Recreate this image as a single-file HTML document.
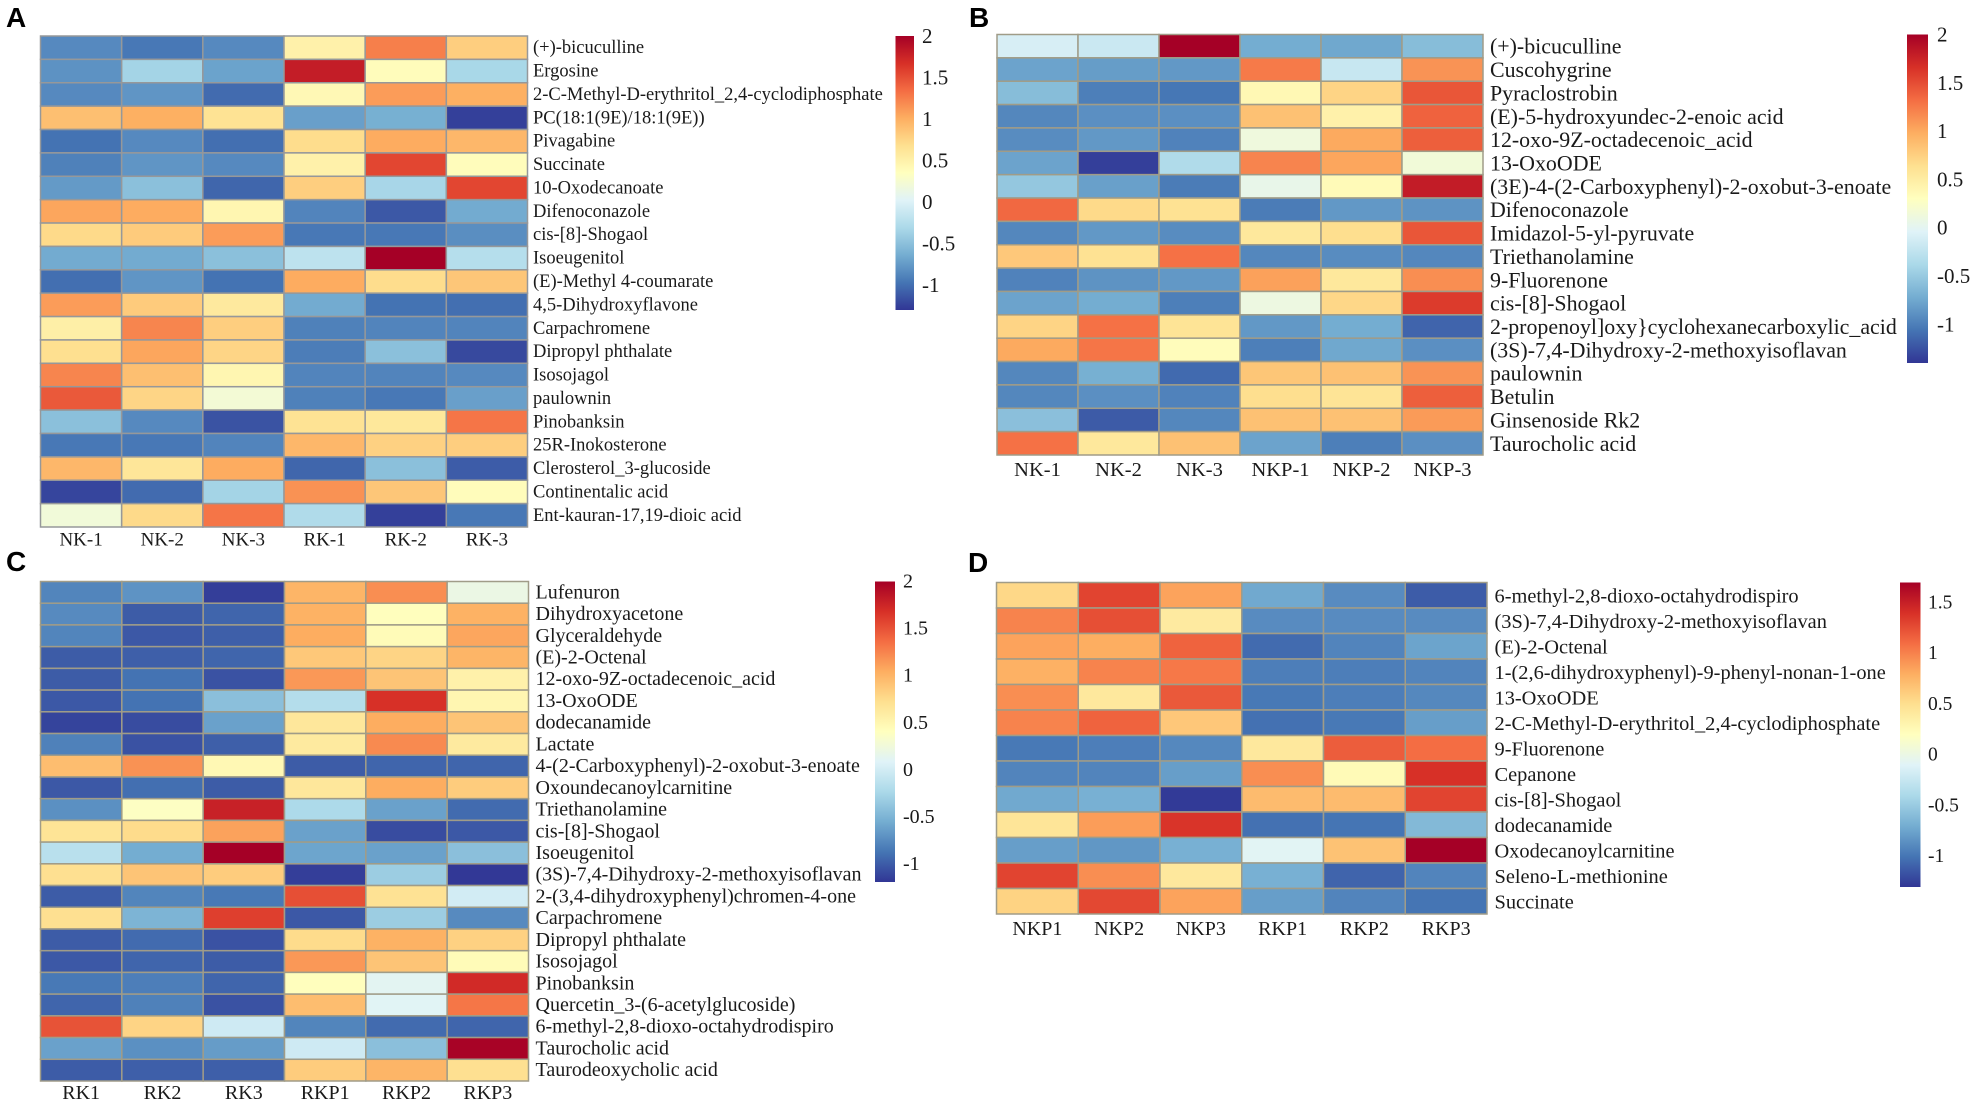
<!DOCTYPE html>
<html lang="en">
<head>
<meta charset="utf-8">
<title>Metabolite heatmaps</title>
<style>
html,body{margin:0;padding:0;background:#fff;}
svg{display:block;}
text{font-family:"Liberation Serif","Times New Roman",serif;fill:#1a1a1a;}
.letter{font-family:"Liberation Sans",Arial,sans-serif;font-weight:bold;font-size:28px;fill:#000;}
</style>
</head>
<body>
<svg id="figure" xmlns="http://www.w3.org/2000/svg" width="1977" height="1107" viewBox="0 0 1977 1107">
<rect width="1977" height="1107" fill="#ffffff"/>
</svg>
<script>
const palette = ['#313695','#4575B4','#74ADD1','#ABD9E9','#E0F3F8','#FFFFBF','#FEE090','#FDAE61','#F46D43','#D73027','#A50026'];

const aColumns = ['NK-1','NK-2','NK-3','RK-1','RK-2','RK-3'];
const aRows = ['(+)-bicuculline','Ergosine','2-C-Methyl-D-erythritol_2,4-cyclodiphosphate','PC(18:1(9E)/18:1(9E))','Pivagabine','Succinate','10-Oxodecanoate','Difenoconazole','cis-[8]-Shogaol','Isoeugenitol','(E)-Methyl 4-coumarate','4,5-Dihydroxyflavone','Carpachromene','Dipropyl phthalate','Isosojagol','paulownin','Pinobanksin','25R-Inokosterone','Clerosterol_3-glucoside','Continentalic acid','Ent-kauran-17,19-dioic acid'];
const aValues = [
[-0.85,-0.95,-0.85,0.5,1.25,0.8],
[-0.8,-0.35,-0.7,1.8,0.38,-0.32],
[-0.85,-0.78,-1.02,0.42,1.1,1.0],
[0.9,1.0,0.65,-0.72,-0.62,-1.25],
[-0.98,-0.85,-1.0,0.7,1.02,0.95],
[-0.9,-0.78,-0.85,0.5,1.55,0.38],
[-0.75,-0.5,-1.05,0.8,-0.33,1.55],
[1.05,1.02,0.45,-0.88,-1.12,-0.65],
[0.72,0.82,1.1,-0.95,-0.95,-0.82],
[-0.65,-0.65,-0.5,-0.2,2.0,-0.25],
[-1.0,-0.78,-0.98,1.02,0.7,0.85],
[1.1,0.82,0.58,-0.65,-0.98,-1.0],
[0.52,1.22,0.8,-0.9,-0.88,-0.88],
[0.68,1.05,0.75,-0.92,-0.5,-1.2],
[1.22,0.9,0.45,-0.88,-0.88,-0.85],
[1.45,0.75,0.22,-0.9,-0.95,-0.72],
[-0.5,-0.85,-1.15,0.65,0.6,1.3],
[-0.95,-0.95,-0.88,0.95,0.78,0.8],
[0.95,0.62,1.02,-1.05,-0.5,-1.1],
[-1.22,-1.02,-0.35,1.15,0.85,0.38],
[0.2,0.72,1.3,-0.28,-1.25,-0.95]
];
const aTicks = [2,1.5,1,0.5,0,-0.5,-1];
const aDomain = [-1.3,2];

const bColumns = ['NK-1','NK-2','NK-3','NKP-1','NKP-2','NKP-3'];
const bRows = ['(+)-bicuculline','Cuscohygrine','Pyraclostrobin','(E)-5-hydroxyundec-2-enoic acid','12-oxo-9Z-octadecenoic_acid','13-OxoODE','(3E)-4-(2-Carboxyphenyl)-2-oxobut-3-enoate','Difenoconazole','Imidazol-5-yl-pyruvate','Triethanolamine','9-Fluorenone','cis-[8]-Shogaol','2-propenoyl]oxy}cyclohexanecarboxylic_acid','(3S)-7,4-Dihydroxy-2-methoxyisoflavan','paulownin','Betulin','Ginsenoside Rk2','Taurocholic acid'];
const bValues = [
[-0.1,-0.18,2.0,-0.72,-0.75,-0.6],
[-0.78,-0.82,-0.85,1.25,-0.2,1.12],
[-0.6,-1.0,-1.05,0.38,0.72,1.45],
[-0.95,-0.9,-0.9,0.85,0.45,1.38],
[-0.92,-0.85,-0.98,0.12,1.0,1.4],
[-0.78,-1.35,-0.35,1.2,1.02,0.15],
[-0.52,-0.8,-1.02,0.05,0.35,1.8],
[1.35,0.68,0.62,-1.02,-0.85,-0.88],
[-0.95,-0.85,-0.92,0.55,0.65,1.45],
[0.8,0.62,1.3,-0.95,-0.92,-0.95],
[-0.98,-0.88,-0.85,1.05,0.55,1.15],
[-0.78,-0.72,-1.0,0.1,0.7,1.6],
[0.72,1.3,0.6,-0.85,-0.72,-1.15],
[1.0,1.28,0.33,-1.0,-0.75,-0.9],
[-0.95,-0.7,-1.12,0.82,0.85,1.12],
[-0.95,-0.9,-0.98,0.65,0.6,1.4],
[-0.58,-1.2,-0.95,0.85,0.85,1.08],
[1.3,0.55,0.85,-0.78,-1.0,-0.9]
];
const bTicks = [2,1.5,1,0.5,0,-0.5,-1];
const bDomain = [-1.4,2];

const cColumns = ['RK1','RK2','RK3','RKP1','RKP2','RKP3'];
const cRows = ['Lufenuron','Dihydroxyacetone','Glyceraldehyde','(E)-2-Octenal','12-oxo-9Z-octadecenoic_acid','13-OxoODE','dodecanamide','Lactate','4-(2-Carboxyphenyl)-2-oxobut-3-enoate','Oxoundecanoylcarnitine','Triethanolamine','cis-[8]-Shogaol','Isoeugenitol','(3S)-7,4-Dihydroxy-2-methoxyisoflavan','2-(3,4-dihydroxyphenyl)chromen-4-one','Carpachromene','Dipropyl phthalate','Isosojagol','Pinobanksin','Quercetin_3-(6-acetylglucoside)','6-methyl-2,8-dioxo-octahydrodispiro','Taurocholic acid','Taurodeoxycholic acid'];
const cValues = [
[-0.78,-0.7,-1.15,1.0,1.2,0.2],
[-0.75,-1.0,-0.95,1.02,0.42,1.02],
[-0.78,-1.02,-0.98,1.05,0.45,1.08],
[-1.0,-0.98,-0.95,0.88,0.8,1.0],
[-1.0,-0.88,-1.05,1.15,0.9,0.55],
[-1.02,-0.88,-0.42,-0.18,1.68,0.5],
[-1.12,-1.08,-0.62,0.65,1.05,0.9],
[-0.8,-1.05,-0.98,0.62,1.22,0.62],
[0.95,1.18,0.48,-1.0,-0.95,-0.95],
[-1.02,-0.9,-1.0,0.65,1.05,0.85],
[-0.72,0.38,1.78,-0.22,-0.62,-0.92],
[0.68,0.75,1.1,-0.62,-1.08,-1.02],
[-0.15,-0.55,2.0,-0.6,-0.62,-0.42],
[0.72,0.9,0.85,-1.15,-0.32,-1.18],
[-1.0,-0.78,-0.85,1.52,0.7,0.0],
[0.72,-0.5,1.6,-1.02,-0.32,-0.75],
[-1.0,-0.92,-1.05,0.75,1.02,0.82],
[-1.02,-0.95,-1.0,1.15,0.9,0.45],
[-0.85,-0.82,-0.95,0.42,0.12,1.72],
[-0.95,-0.8,-1.05,0.95,0.1,1.32],
[1.5,0.8,-0.02,-0.78,-0.92,-0.95],
[-0.62,-0.72,-0.65,-0.02,-0.42,1.98],
[-1.0,-0.98,-0.98,0.85,1.0,0.72]
];
const cTicks = [2,1.5,1,0.5,0,-0.5,-1];
const cDomain = [-1.19,2];

const dColumns = ['NKP1','NKP2','NKP3','RKP1','RKP2','RKP3'];
const dRows = ['6-methyl-2,8-dioxo-octahydrodispiro','(3S)-7,4-Dihydroxy-2-methoxyisoflavan','(E)-2-Octenal','1-(2,6-dihydroxyphenyl)-9-phenyl-nonan-1-one','13-OxoODE','2-C-Methyl-D-erythritol_2,4-cyclodiphosphate','9-Fluorenone','Cepanone','cis-[8]-Shogaol','dodecanamide','Oxodecanoylcarnitine','Seleno-L-methionine','Succinate'];
const dValues = [
[0.55,1.3,0.85,-0.72,-0.88,-1.12],
[1.0,1.25,0.4,-0.88,-0.88,-0.88],
[0.85,0.8,1.15,-1.05,-0.92,-0.75],
[0.78,1.0,1.05,-0.95,-0.95,-0.92],
[0.95,0.42,1.2,-0.98,-0.95,-0.9],
[1.0,1.15,0.65,-1.02,-0.98,-0.78],
[-0.98,-0.95,-0.9,0.42,1.18,1.1],
[-0.92,-0.92,-0.78,0.95,0.25,1.4],
[-0.72,-0.68,-1.28,0.72,0.72,1.3],
[0.45,0.88,1.38,-1.02,-1.0,-0.62],
[-0.78,-0.82,-0.68,-0.08,0.68,1.7],
[1.3,0.95,0.42,-0.68,-1.08,-0.92],
[0.58,1.28,0.85,-0.78,-0.92,-1.0]
];
const dTicks = [1.5,1,0.5,0,-0.5,-1];
const dDomain = [-1.3,1.7];

const NS = 'http://www.w3.org/2000/svg';
const figure = document.getElementById('figure');

function make(tag, attrs, parent, content) {
  const node = document.createElementNS(NS, tag);
  for (const key in attrs) node.setAttribute(key, attrs[key]);
  if (content !== undefined) node.textContent = content;
  parent.appendChild(node);
  return node;
}

function hexToRgb(hex) {
  return [1, 3, 5].map(function (i) { return parseInt(hex.slice(i, i + 2), 16); });
}

function colorFor(value, domain) {
  const t = Math.max(0, Math.min(1, (value - domain[0]) / (domain[1] - domain[0]))) * (palette.length - 1);
  const i = Math.min(palette.length - 2, Math.floor(t));
  const a = hexToRgb(palette[i]);
  const b = hexToRgb(palette[i + 1]);
  const f = t - i;
  const mixed = a.map(function (c, k) { return Math.round(c + (b[k] - c) * f); });
  return 'rgb(' + mixed.join(',') + ')';
}

function drawPanel(key, letter, columns, rows, values, ticks, domain, frame) {
  const panel = make('g', {}, figure);
  
  

  const title = make('text', { x: frame.letterX, y: frame.letterY, class: 'letter' }, panel, letter);
  
  

  const cellW = (frame.right - frame.left) / columns.length;
  const cellH = (frame.bottom - frame.top) / rows.length;
  const xAt = function (c) { return frame.left + c * cellW; };
  const yAt = function (r) { return frame.top + r * cellH; };

  const grid = make('g', { stroke: frame.border, 'stroke-width': 1.5 }, panel);
  
  
  rows.forEach(function (rowName, r) {
    columns.forEach(function (colName, c) {
      const cell = make('rect', {
        x: xAt(c), y: yAt(r), width: cellW, height: cellH,
        fill: colorFor(values[r][c], domain)
      }, grid);
      
      
    });
  });

  rows.forEach(function (rowName, r) {
    const label = make('text', {
      x: frame.labelX, y: yAt(r) + cellH / 2 + frame.labelShift, 'font-size': frame.labelSize,
      'dominant-baseline': 'central'
    }, panel, rowName);
    
    
  });

  columns.forEach(function (colName, c) {
    const label = make('text', {
      x: xAt(c) + cellW / 2, y: frame.colLabelY, 'font-size': frame.colSize,
      'text-anchor': 'middle', 'dominant-baseline': 'central'
    }, panel, colName);
    
    
  });

  const defs = make('defs', {}, panel);
  const gradient = make('linearGradient', { id: 'ramp-' + key, x1: 0, y1: 1, x2: 0, y2: 0 }, defs);
  palette.forEach(function (color, i) {
    make('stop', { offset: i / (palette.length - 1), 'stop-color': color }, gradient);
  });
  const bar = make('rect', {
    x: frame.barLeft, y: frame.barTop, width: frame.barRight - frame.barLeft,
    height: frame.barBottom - frame.barTop, fill: 'url(#ramp-' + key + ')'
  }, panel);
  
  

  const barY = function (v) {
    return frame.barTop + (domain[1] - v) / (domain[1] - domain[0]) * (frame.barBottom - frame.barTop);
  };
  ticks.forEach(function (tick) {
    const label = make('text', {
      x: frame.tickX, y: barY(tick), 'font-size': frame.tickSize,
      'dominant-baseline': 'central'
    }, panel, String(tick));
    
    
  });
}

drawPanel('a', 'A', aColumns, aRows, aValues, aTicks, aDomain, {
  letterX: 6, letterY: 27, left: 40.5, right: 527.5, top: 36, bottom: 527, border: '#96989a',
  labelX: 533, labelSize: 18.5, labelShift: 0.5, colLabelY: 540, colSize: 19,
  barLeft: 895.5, barRight: 914, barTop: 36, barBottom: 310, tickX: 922, tickSize: 21
});
drawPanel('b', 'B', bColumns, bRows, bValues, bTicks, bDomain, {
  letterX: 969, letterY: 27, left: 997, right: 1483, top: 34.5, bottom: 455, border: '#a09c88',
  labelX: 1490, labelSize: 21.9, labelShift: 0, colLabelY: 470, colSize: 20.5,
  barLeft: 1907, barRight: 1928, barTop: 34.5, barBottom: 363, tickX: 1937, tickSize: 21
});
drawPanel('c', 'C', cColumns, cRows, cValues, cTicks, cDomain, {
  letterX: 6, letterY: 571, left: 40.5, right: 528.5, top: 581.5, bottom: 1081, border: '#a09c88',
  labelX: 535.5, labelSize: 20, labelShift: 0, colLabelY: 1093, colSize: 20,
  barLeft: 875, barRight: 895, barTop: 581.5, barBottom: 882, tickX: 903, tickSize: 20
});
drawPanel('d', 'D', dColumns, dRows, dValues, dTicks, dDomain, {
  letterX: 968, letterY: 572, left: 996.5, right: 1487, top: 582.5, bottom: 914, border: '#a09c88',
  labelX: 1494.5, labelSize: 20.4, labelShift: 1, colLabelY: 929, colSize: 20,
  barLeft: 1900, barRight: 1920.5, barTop: 582.5, barBottom: 887, tickX: 1928, tickSize: 19.5
});
</script>
</body>
</html>
